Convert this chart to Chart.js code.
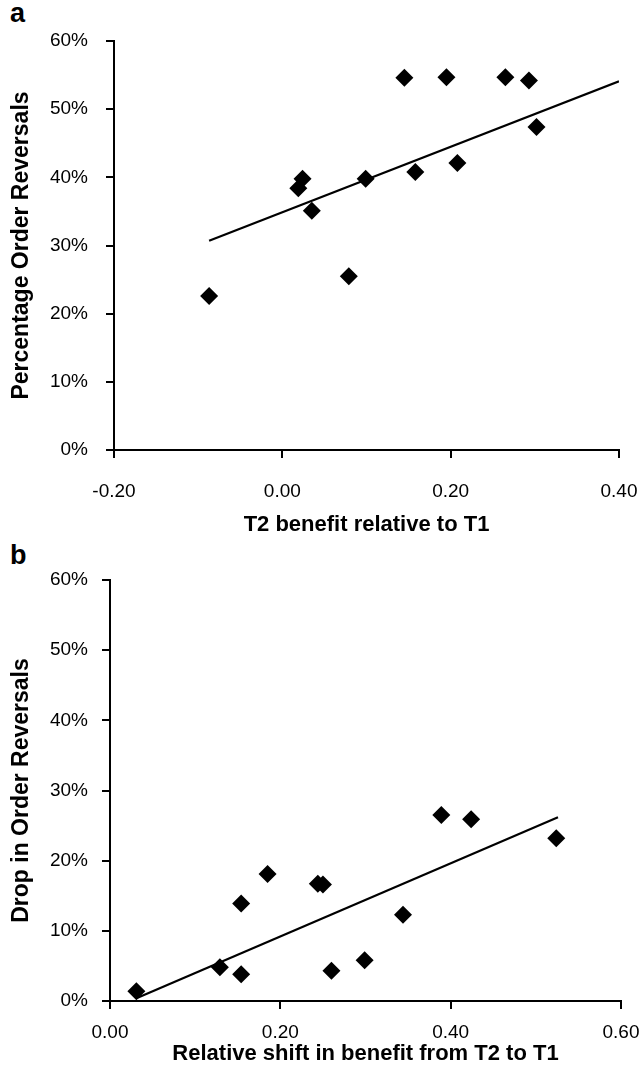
<!DOCTYPE html>
<html>
<head>
<meta charset="utf-8">
<script src="https://cdn.jsdelivr.net/npm/chart.js@4.4.1/dist/chart.umd.min.js"></script>
<style>
  body { margin: 0; background: #fff; width: 641px; height: 1077px; position: relative; overflow: hidden; }
  .panel { position: absolute; left: 0; }
  .tag { position: absolute; left: 10px; font: bold 27px "Liberation Sans", Arial, sans-serif; color: #000; }
</style>
</head>
<body>
<div class="tag" style="top:-2px">a</div>
<div class="tag" style="top:540px">b</div>
<canvas id="chartA" class="panel" style="top:0" width="641" height="545"></canvas>
<canvas id="chartB" class="panel" style="top:545px" width="641" height="532"></canvas>
<script>
// panel a: T2 benefit relative to T1 vs percentage order reversals
var benefitA = [-0.087, 0.019, 0.024, 0.035, 0.079, 0.099, 0.145, 0.158, 0.195, 0.208, 0.265, 0.293, 0.302];
var reversalsA = [22.6, 38.4, 39.8, 35.1, 25.5, 39.8, 54.6, 40.8, 54.7, 42.1, 54.7, 54.2, 47.4];
var trendAx = [-0.087, 0.40];
var trendAy = [30.7, 54.1];

// panel b: relative shift in benefit vs drop in order reversals
var shiftB = [0.031, 0.129, 0.154, 0.154, 0.185, 0.244, 0.250, 0.260, 0.299, 0.344, 0.389, 0.424, 0.524];
var dropB = [1.4, 4.8, 3.8, 13.9, 18.1, 16.7, 16.6, 4.3, 5.8, 12.3, 26.5, 25.9, 23.2];
var trendBx = [0.031, 0.526];
var trendBy = [0.4, 26.2];

var FONT = '"Liberation Sans", Arial, sans-serif';

function pairs(xs, ys) {
  return xs.map(function (x, i) { return { x: x, y: ys[i] }; });
}

function makeChart(id, o) {
  return new Chart(document.getElementById(id), {
    type: 'scatter',
    data: {
      datasets: [
        {
          data: pairs(o.xs, o.ys),
          pointStyle: 'rectRot',
          pointRadius: 9,
          pointHoverRadius: 9,
          backgroundColor: '#000',
          borderColor: '#000',
          borderWidth: 0,
          showLine: false
        },
        {
          data: pairs(o.tx, o.ty),
          showLine: true,
          borderColor: '#000',
          borderWidth: 2.2,
          pointRadius: 0,
          fill: false
        }
      ]
    },
    options: {
      responsive: false,
      animation: false,
      layout: { padding: { left: 0, right: o.right, top: o.top, bottom: 0 } },
      plugins: { legend: { display: false }, tooltip: { enabled: false } },
      scales: {
        x: {
          type: 'linear',
          min: o.xmin, max: o.xmax,
          // fixed box so the plot area lands where the original's does
          afterFit: function (s) { s.height = o.xh; s.paddingLeft = 0; s.paddingRight = 0; },
          border: { display: true, color: '#000', width: 2 },
          grid: { drawOnChartArea: false, drawTicks: true, tickLength: 8, color: '#000', lineWidth: 2 },
          ticks: {
            stepSize: 0.2, padding: o.xpad, color: '#000',
            font: { family: FONT, size: 19 },
            callback: function (v) { return (Math.abs(v) < 1e-9 ? 0 : v).toFixed(2); }
          },
          title: {
            display: true, text: o.xtitle, color: '#000',
            font: { family: FONT, size: o.xts, weight: 'bold' },
            padding: { top: 0, bottom: o.xtb }
          }
        },
        y: {
          min: 0, max: 60,
          afterFit: function (s) { s.width = o.yw; s.paddingTop = 0; s.paddingBottom = 0; },
          border: { display: true, color: '#000', width: 2 },
          grid: { drawOnChartArea: false, drawTicks: true, tickLength: 8, color: '#000', lineWidth: 2 },
          ticks: {
            stepSize: 10, padding: o.ypad, color: '#000',
            font: { family: FONT, size: 19 },
            callback: function (v) { return v + '%'; }
          },
          title: {
            display: true, text: o.ytitle, color: '#000',
            font: { family: FONT, size: 23, weight: 'bold' },
            padding: { top: 8, bottom: 0 }
          }
        }
      }
    }
  });
}

makeChart('chartA', {
  xs: benefitA, ys: reversalsA, tx: trendAx, ty: trendAy,
  xmin: -0.2, xmax: 0.4, right: 22, top: 41, xh: 95, yw: 114,
  xpad: 22, ypad: 18, xtb: 7, xts: 22,
  xtitle: 'T2 benefit relative to T1',
  ytitle: 'Percentage Order Reversals'
});

makeChart('chartB', {
  xs: shiftB, ys: dropB, tx: trendBx, ty: trendBy,
  xmin: 0, xmax: 0.6, right: 20, top: 35, xh: 76, yw: 110,
  xpad: 12, ypad: 14, xtb: 10, xts: 22,
  xtitle: 'Relative shift in benefit from T2 to T1',
  ytitle: 'Drop in Order Reversals'
});
</script>
</body>
</html>
